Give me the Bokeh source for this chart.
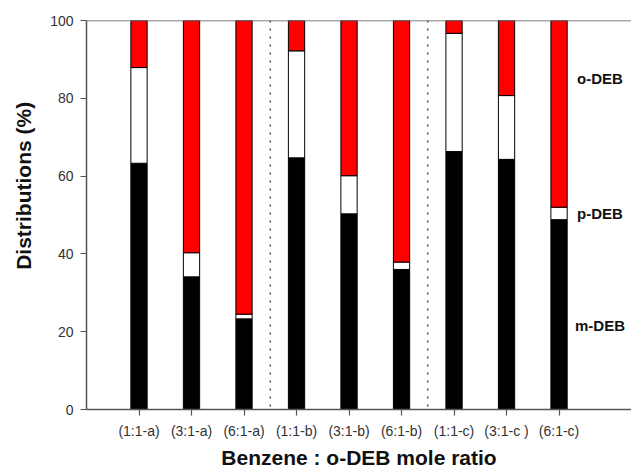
from bokeh.plotting import figure
from bokeh.models import ColumnDataSource, FixedTicker, Span, Range1d, Label
from bokeh.embed import file_html
from bokeh.resources import INLINE

categories = ["(1:1-a)", "(3:1-a)", "(6:1-a)", "(1:1-b)", "(3:1-b)", "(6:1-b)", "(1:1-c)", "(3:1-c )", "(6:1-c)"]
m_deb = [63.3, 34.1, 23.3, 64.7, 50.3, 36.0, 66.3, 64.3, 48.8]
p_deb = [24.6, 6.2, 1.2, 27.5, 9.8, 1.9, 30.4, 16.4, 3.2]
o_deb = [100 - m - p for m, p in zip(m_deb, p_deb)]
separators = [3.5, 6.5]
y_ticks = [0, 20, 40, 60, 80, 100]

xs = list(range(1, len(categories) + 1))
m_top = m_deb
p_top = [m + p for m, p in zip(m_deb, p_deb)]
o_top = [a + b for a, b in zip(p_top, o_deb)]

src = ColumnDataSource(dict(x=xs, m0=[0] * len(xs), m1=m_top, p1=p_top, o1=o_top))

p = figure(width=631, height=472, output_backend="svg", toolbar_location=None,
           x_range=Range1d(0, 10.38), y_range=Range1d(0, 100),
           min_border_left=86, min_border_right=0, min_border_top=20, min_border_bottom=63)
p.background_fill_color = "white"
p.border_fill_color = "white"
p.outline_line_color = None
p.grid.visible = False

w = 0.31
p.vbar(x="x", bottom="m0", top="m1", width=w, source=src, fill_color="black", line_color="black", line_width=1)
p.vbar(x="x", bottom="m1", top="p1", width=w, source=src, fill_color="white", line_color="black", line_width=1)
p.vbar(x="x", bottom="p1", top="o1", width=w, source=src, fill_color="#ff0000", line_color="black", line_width=1)

for s in separators:
    p.add_layout(Span(location=s, dimension="height", line_color="#333333", line_dash="2 6", line_width=1.3))
p.add_layout(Span(location=100, dimension="width", line_color="#555555", line_width=1.5))

p.xaxis.ticker = FixedTicker(ticks=xs)
p.xaxis.major_label_overrides = {x: c for x, c in zip(xs, categories)}
p.xaxis.minor_tick_line_color = None
p.yaxis.ticker = FixedTicker(ticks=y_ticks)
p.yaxis.minor_tick_line_color = None

for ax in (p.xaxis, p.yaxis):
    ax.axis_line_color = "#555555"
    ax.axis_line_width = 1.5
    ax.major_tick_line_color = "#555555"
    ax.major_tick_line_width = 1.2
    ax.major_tick_in = 0
    ax.major_tick_out = 6
    ax.major_label_text_font = "Liberation Sans"
    ax.major_label_text_font_size = "14px"
    ax.major_label_text_color = "#333333"
    ax.axis_label_text_font = "Liberation Sans"
    ax.axis_label_text_font_style = "bold"
    ax.axis_label_text_font_size = "21px"
    ax.axis_label_text_color = "#111111"

p.xaxis.axis_label = "Benzene : o-DEB mole ratio"
p.yaxis.axis_label = "\u00a0" * 10 + "Distributions (%)"
p.xaxis.major_label_standoff = 7
p.xaxis.axis_label_standoff = 4
p.yaxis.major_label_standoff = 7
p.yaxis.axis_label_standoff = 12

for txt, yv in [("o-DEB", 85), ("p-DEB", 50.4), ("m-DEB", 21.6)]:
    p.add_layout(Label(x=9.78, y=yv, text=txt, text_align="center", text_baseline="middle",
                       text_font="Liberation Sans", text_font_style="bold", text_font_size="15px",
                       text_color="#111111"))

open("out.html", "w").write(file_html(p, INLINE))
